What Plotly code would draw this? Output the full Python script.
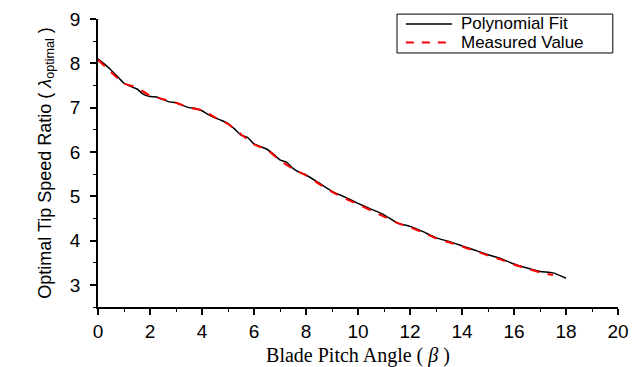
import plotly.graph_objects as go

fit_x = [0, 0.25, 0.5, 0.75, 1.0, 1.25, 1.5, 1.75, 2.0, 2.25, 2.5, 2.75, 3.0, 3.25, 3.5, 3.75,
         4.0, 4.25, 4.5, 4.75, 5.0, 5.25, 5.5, 5.75, 6.0, 6.25, 6.5, 6.75, 7.0, 7.25, 7.5, 7.75,
         8.0, 8.5, 9.0, 9.5, 10.0, 10.5, 11.0, 11.5, 12.0, 12.5, 13.0, 13.5, 14.0, 14.5, 15.0,
         15.5, 16.0, 16.5, 17.0, 17.5, 18.0]
fit_y = [8.10, 7.98, 7.85, 7.70, 7.55, 7.48, 7.42, 7.30, 7.25, 7.24, 7.18, 7.13, 7.11, 7.05, 7.00, 6.98,
         6.93, 6.84, 6.77, 6.71, 6.64, 6.52, 6.38, 6.33, 6.18, 6.12, 6.06, 5.95, 5.82, 5.77, 5.63, 5.54,
         5.48, 5.30, 5.11, 4.98, 4.84, 4.71, 4.58, 4.40, 4.32, 4.20, 4.06, 3.98, 3.88, 3.78, 3.68,
         3.59, 3.47, 3.38, 3.30, 3.27, 3.15]

meas_x = [0, 0.5, 1.0, 1.5, 2.0, 2.5, 3.0, 3.5, 4.0, 4.5, 5.0, 5.5, 6.0, 6.5, 7.0, 7.5, 8.0,
          8.5, 9.0, 9.5, 10.0, 10.5, 11.0, 11.5, 12.0, 12.5, 13.0, 13.5, 14.0, 14.5, 15.0, 15.5,
          16.0, 16.5, 17.0, 17.5]
meas_y = [8.08, 7.80, 7.55, 7.45, 7.27, 7.19, 7.11, 7.00, 6.94, 6.78, 6.63, 6.40, 6.17, 6.05, 5.81,
          5.62, 5.47, 5.28, 5.10, 4.95, 4.82, 4.68, 4.54, 4.40, 4.30, 4.18, 4.05, 3.96, 3.86, 3.77,
          3.66, 3.57, 3.46, 3.37, 3.28, 3.22]

x_ticks = [0, 2, 4, 6, 8, 10, 12, 14, 16, 18, 20]
y_ticks = [3, 4, 5, 6, 7, 8, 9]
series_names = ["Polynomial Fit", "Measured Value"]

fig = go.Figure()
fig.add_trace(go.Scatter(x=fit_x, y=fit_y, mode="lines", name=series_names[0], showlegend=False,
                         line=dict(color="black", width=1.5, shape="spline", smoothing=0.6)))
fig.add_trace(go.Scatter(x=meas_x, y=meas_y, mode="lines", name=series_names[1], showlegend=False,
                         line=dict(color="#ff0000", width=2, dash="dash", shape="spline", smoothing=0.6)))

# compact legend box (drawn in paper coordinates)
leg_font = dict(family="Liberation Sans, Arial", size=17, color="black")
leg_rows = [0.983, 0.918]
fig.add_shape(type="rect", xref="paper", yref="paper", x0=0.575, x1=0.990, y0=0.882, y1=1.017,
              line=dict(color="black", width=1), fillcolor="white", layer="above")
fig.add_shape(type="line", xref="paper", yref="paper", x0=0.592, x1=0.681, y0=leg_rows[0], y1=leg_rows[0],
              line=dict(color="black", width=1.5), layer="above")
fig.add_shape(type="line", xref="paper", yref="paper", x0=0.592, x1=0.681, y0=leg_rows[1], y1=leg_rows[1],
              line=dict(color="#ff0000", width=2, dash="8px,8px"), layer="above")
for name, yy in zip(series_names, leg_rows):
    fig.add_annotation(text=name, xref="paper", yref="paper", x=0.694, y=yy,
                       xanchor="left", yanchor="middle", showarrow=False, font=leg_font)

axis_font = dict(family="Liberation Sans, Arial", size=19, color="black")
fig.update_layout(
    width=644, height=367,
    margin=dict(l=98, r=26, t=19, b=60, autoexpand=False),
    paper_bgcolor="white", plot_bgcolor="white",
    showlegend=False,
    xaxis=dict(range=[0, 20], tickvals=x_ticks, ticktext=[str(v) for v in x_ticks], automargin=False,
               showgrid=False, zeroline=False, showline=True, linecolor="black", linewidth=1.5,
               ticks="outside", ticklen=6, tickwidth=1.5, tickcolor="black", tickfont=axis_font,
               ticklabelstandoff=0,
               minor=dict(dtick=1, ticks="outside", ticklen=3, tickwidth=1, tickcolor="black"),
               title=dict(text="Blade Pitch Angle ( <i>β</i> )",
                          font=dict(family="Liberation Serif, Times New Roman", size=20, color="black"),
                          standoff=10)),
    yaxis=dict(range=[2.5, 9], tickvals=y_ticks, ticktext=[str(v) for v in y_ticks], automargin=False,
               showgrid=False, zeroline=False, showline=True, linecolor="black", linewidth=1.5,
               ticks="outside", ticklen=6, tickwidth=1.5, tickcolor="black", tickfont=axis_font,
               ticklabelstandoff=6,
               minor=dict(dtick=0.5, ticks="outside", ticklen=3, tickwidth=1, tickcolor="black"),
               title=dict(text="Optimal Tip Speed Ratio ( <i>λ</i><sub>optimal</sub> )",
                          font=dict(family="Liberation Sans Narrow, Liberation Sans, Arial", size=18, color="black"),
                          standoff=14)),
)

fig.write_html("out.html")
